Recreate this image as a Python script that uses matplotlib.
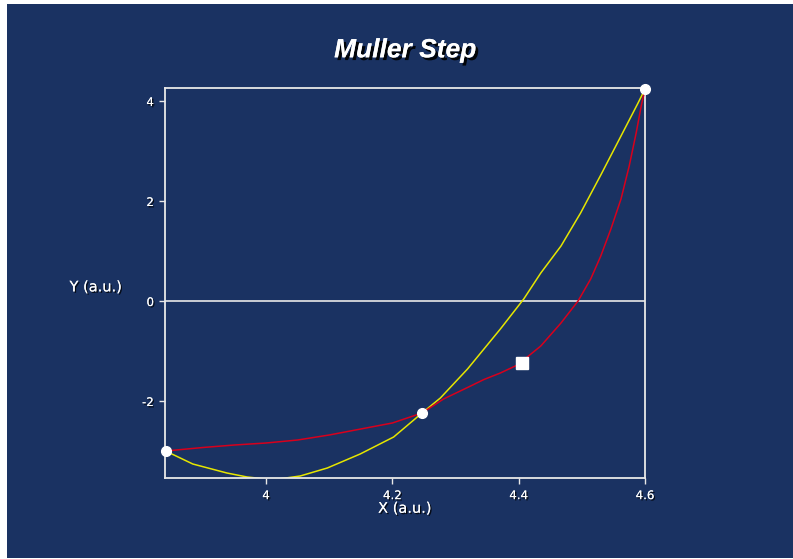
import matplotlib
matplotlib.use('Agg')
import matplotlib.pyplot as plt
import matplotlib.patheffects as pe
from matplotlib.patches import Rectangle

plt.rcParams['axes.unicode_minus'] = False

# function f(x) (red)
fx = [3.841, 3.90, 3.95, 4.0, 4.05, 4.10, 4.15, 4.20, 4.247, 4.281, 4.319, 4.345,
      4.371, 4.398, 4.435, 4.467, 4.494, 4.514, 4.530, 4.546, 4.562, 4.575, 4.586,
      4.594, 4.60]
fy = [-3.00, -2.93, -2.88, -2.84, -2.78, -2.68, -2.56, -2.44, -2.24, -1.96, -1.73, -1.57,
      -1.44, -1.28, -0.90, -0.44, 0.00, 0.44, 0.90, 1.44, 2.04, 2.70, 3.36,
      3.90, 4.24]

# Muller parabola (yellow)
px = [3.841, 3.884, 3.938, 3.97, 4.0, 4.02, 4.054, 4.097, 4.149, 4.202, 4.247, 4.276,
      4.319, 4.371, 4.408, 4.435, 4.467, 4.498, 4.530, 4.562, 4.589, 4.60]
py = [-3.00, -3.26, -3.44, -3.52, -3.56, -3.56, -3.50, -3.34, -3.06, -2.72, -2.24, -1.94,
      -1.36, -0.56, 0.04, 0.56, 1.10, 1.76, 2.52, 3.30, 3.96, 4.24]

# the three Muller points and the new estimate
pts_x = [3.841, 4.247, 4.60]
pts_y = [-3.00, -2.24, 4.24]
new_x = [4.405]
new_y = [-1.24]

xticks = [4, 4.2, 4.4, 4.6]
xticklabels = ['4', '4.2', '4.4', '4.6']
yticks = [-2, 0, 2, 4]

bg = '#1a3262'
shadow = [pe.withSimplePatchShadow(offset=(1, -1), shadow_rgbFace='black', alpha=0.8), pe.Normal()]

fig = plt.figure(figsize=(7.93, 5.59), dpi=100, facecolor='white')
fig.patches.append(Rectangle((7 / 793, 1 / 559), 1, 554 / 559, transform=fig.transFigure,
                             facecolor=bg, edgecolor='none', zorder=-1))

ax = fig.add_axes([165 / 793, 81 / 559, 480 / 793, 390 / 559])
ax.set_zorder(2)
ax.set_facecolor(bg)
ax.set_xlim(3.84, 4.6)
ax.set_ylim(-3.54, 4.26)

ax.axhline(0, color='#e8e8e8', linewidth=1.2, zorder=1)
ax.plot(px, py, color='#e6e600', linewidth=1.1, zorder=2)
ax.plot(fx, fy, color='#d8001c', linewidth=1.1, zorder=3)
ax.plot(pts_x, pts_y, linestyle='none', marker='o', markersize=7, color='white',
        markeredgecolor='white', clip_on=False, zorder=5)
ax.plot(new_x, new_y, linestyle='none', marker='s', markersize=8, color='white',
        clip_on=False, zorder=5)

for s in ax.spines.values():
    s.set_color('#e8e8e8')
    s.set_linewidth(1.3)

ax.set_xticks(xticks)
ax.set_xticklabels(xticklabels)
ax.set_yticks(yticks)
ax.tick_params(colors='#e8e8e8', labelcolor='white', length=4, width=1, labelsize=8.5, pad=4)
for lab in ax.get_xticklabels() + ax.get_yticklabels():
    lab.set_path_effects(shadow)

ax.set_xlabel('X (a.u.)', color='white', fontsize=10.5, labelpad=-1, path_effects=shadow)
ax.set_ylabel('Y (a.u.)', color='white', fontsize=10.5, rotation=0, va='center', ha='center',
              path_effects=shadow)
ax.yaxis.set_label_coords(-0.144, 0.49)

fig.text(0.511, 0.91, 'Muller Step', color='white', fontsize=19, fontweight='bold',
         fontstyle='italic', family='Liberation Sans', ha='center', va='center',
         path_effects=[pe.withSimplePatchShadow(offset=(2, -2), shadow_rgbFace='black', alpha=0.9), pe.Normal()])

plt.savefig('out.png', dpi=100, facecolor=fig.get_facecolor())
